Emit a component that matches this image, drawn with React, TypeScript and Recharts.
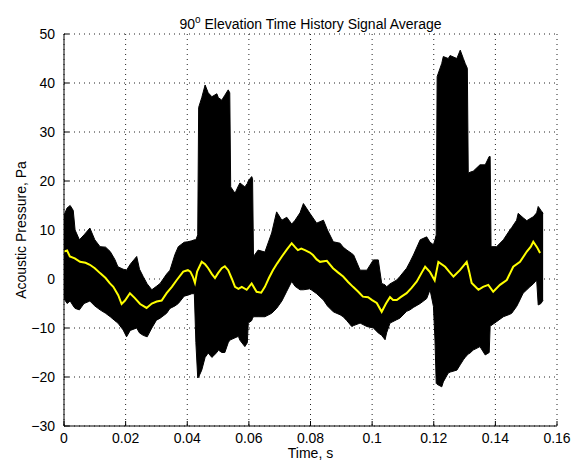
import React from "react";
import {
  ComposedChart,
  Area,
  Line,
  XAxis,
  YAxis,
  CartesianGrid,
  Label,
} from "recharts";

// Envelope of the overlaid time-history traces (s, Pa)
const bandTime = [
  0.0, 0.001, 0.002, 0.003, 0.0036, 0.005, 0.0065, 0.0084, 0.01, 0.0117, 0.0135, 0.015, 0.0165,
  0.0175, 0.0192, 0.0203, 0.0215, 0.0236, 0.0245, 0.0257, 0.027, 0.0285, 0.03, 0.0312, 0.0333,
  0.0344, 0.036, 0.0371, 0.039, 0.0402, 0.0415, 0.0423, 0.0428, 0.0434, 0.0437, 0.0447, 0.0458,
  0.0468, 0.048, 0.0496, 0.0501, 0.0512, 0.0522, 0.0533, 0.0538, 0.0541, 0.0555, 0.0566, 0.0571,
  0.0587, 0.0595, 0.0598, 0.0609, 0.0612, 0.0615, 0.063, 0.0652, 0.0674, 0.069, 0.0707, 0.0723,
  0.0739, 0.075, 0.0766, 0.0777, 0.0798, 0.082, 0.0842, 0.0855, 0.0874, 0.0896, 0.0906, 0.0918,
  0.0934, 0.094, 0.0961, 0.0983, 0.1004, 0.102, 0.1031, 0.1042, 0.1047, 0.1058, 0.108, 0.109,
  0.1112, 0.1123, 0.1134, 0.1156, 0.1177, 0.1188, 0.1199, 0.1204, 0.1208, 0.1211, 0.1226, 0.1231,
  0.1247, 0.1253, 0.1275, 0.1286, 0.1296, 0.1302, 0.1309, 0.1312, 0.1318, 0.1328, 0.135, 0.1367,
  0.138, 0.1383, 0.1386, 0.1404, 0.1426, 0.1447, 0.1453, 0.1469, 0.1474, 0.149, 0.1502, 0.1512,
  0.1523, 0.1534, 0.1539, 0.1548, 0.1555,
];
const bandLow = [
  -4, -5, -4.5, -5.5, -6, -6.3, -5, -4.5, -5.5, -6.3, -7, -7.7, -8.5,
  -9, -10.4, -11.8, -10.5, -10, -11, -11.5, -11.8, -10, -8.4, -8, -7,
  -6, -5.5, -5, -3.5, -3.3, -3, -3, -13, -20.2, -20, -18.6, -16,
  -15.1, -16, -15, -14.5, -15, -15, -13, -12.5, -12.4, -12, -11.7, -12.5,
  -13.8, -13, -9, -8.5, -8, -7.7, -7.7, -7.7, -7, -6, -4.5, -2.5,
  -0.5, -1.5, -2.2, -2.2, -2, -3, -4.3, -5.5, -6.7, -7.3, -7.7, -8.5,
  -9.7, -9.5, -9, -9.7, -10, -11, -11.5, -12.4, -11, -9, -8.3, -8,
  -6.6, -6.3, -5.8, -5, -4, -2.2, -5.6, -12.4, -21.3, -21.5, -22, -21,
  -19.2, -19, -18.6, -17.5, -16.5, -16, -15.5, -15.3, -15.1, -14.5, -13.8, -15.5,
  -15, -9.7, -9.5, -8.7, -7.7, -7.2, -7, -5.6, -5, -2.9, -2.2, -1.6,
  -1, -0.2, -5.3, -5, -4.3,
];
const bandHigh = [
  13, 14.5, 15, 14, 10, 8, 9, 10.4, 8, 6.6, 6.5, 5.6, 4,
  2.5, 2, 1.8, 3, 4.6, 2, 0.5, -1, -2.2, -1.5, -0.9, 1,
  1.8, 5, 6.6, 7.5, 7.6, 7.8, 8, 8, 9, 35, 37, 39.6,
  38, 37.2, 37.8, 37, 36.5, 37.5, 38.6, 38, 18.8, 17.5, 19, 19.6,
  18.8, 19.5, 20, 20.9, 20.5, 4.6, 5.9, 5.5, 9.4, 13.7, 12, 12.6,
  11.2, 12, 13.5, 15.4, 13.4, 11.4, 12, 10, 7.6, 7.3, 6.5, 5.9,
  5.2, 4.9, 1.8, 1.8, 3.9, 3.9, -0.9, -1.2, -1.6, -1, -0.2, 0.5,
  2.2, 3.5, 4.9, 8, 8.6, 7.5, 7, 8, 9, 41.3, 44, 45.4,
  45, 45.6, 45, 46.7, 45, 44, 43, 21.6, 21.8, 22, 23.3, 23.3,
  25, 25, 6.6, 6.6, 8, 10, 10.5, 12, 13.4, 12.5, 11.9, 12.3,
  12.7, 13.5, 14.8, 14, 13.4,
];

// Signal average (yellow)
const avgTime = [
  0.0, 0.001, 0.0019, 0.0035, 0.0052, 0.007, 0.0084, 0.01, 0.0117, 0.0135, 0.0149, 0.016, 0.0176,
  0.0187, 0.0198, 0.0214, 0.023, 0.0247, 0.0268, 0.0285, 0.0301, 0.0317, 0.0333, 0.035, 0.0366,
  0.0387, 0.0402, 0.041, 0.0418, 0.0425, 0.0432, 0.0447, 0.0458, 0.0468, 0.048, 0.049, 0.05,
  0.0512, 0.0522, 0.0533, 0.0545, 0.0555, 0.0566, 0.0577, 0.0593, 0.0609, 0.0625, 0.064, 0.0652,
  0.0665, 0.0678, 0.0692, 0.0707, 0.0723, 0.0739, 0.075, 0.0759, 0.077, 0.0782, 0.0798, 0.0808,
  0.082, 0.0831, 0.0853, 0.0873, 0.089, 0.0906, 0.0922, 0.0938, 0.0955, 0.097, 0.0987, 0.1,
  0.1015, 0.1031, 0.1045, 0.1058, 0.1068, 0.108, 0.1095, 0.1112, 0.1128, 0.1145, 0.116, 0.1172,
  0.1188, 0.1203, 0.1215, 0.1237, 0.125, 0.1264, 0.1285, 0.1307, 0.1315, 0.1323, 0.1345, 0.136,
  0.1377, 0.1393, 0.1415, 0.1437, 0.1458, 0.148, 0.1502, 0.1515, 0.1523, 0.1535, 0.1545,
];
const avgValue = [
  5.6, 5.8, 4.6, 4.2, 3.5, 3.3, 2.9, 2.2, 1.2, 0.2, -0.9, -1.6, -3.3,
  -5.1, -4.4, -2.9, -3.9, -5.1, -5.9, -5.0, -4.6, -4.4, -2.9, -1.6, -0.2,
  1.5, 1.8, 1.5, 0.5, -0.8, 1.5, 3.5, 3.0, 2.2, 1.0, 0.2, 1.2,
  2.2, 2.6, 1.8, 0.0, -1.6, -2.0, -1.6, -2.2, -0.9, -2.6, -2.8, -1.6,
  0.2, 1.8, 3.2, 4.6, 6.0, 7.3, 6.5, 5.9, 6.2, 5.9, 5.4, 4.9,
  4.0, 3.5, 3.7, 2.2, 1.3, 0.5, -0.6, -1.6, -2.6, -3.6, -3.7, -4.3,
  -4.9, -6.7, -5.0, -3.7, -4.3, -4.3, -3.6, -2.9, -1.8, -0.5, 1.2, 2.5,
  1.4, -0.3, 3.5, 2.5, 1.5, 0.5, 1.8, 3.5, 1.5, -0.8, -2.2, -1.6,
  -1.2, -2.6, -1.2, -0.2, 2.5, 3.5, 5.6, 6.6, 7.6, 6.5, 5.3,
];

const xTicks = [0, 0.02, 0.04, 0.06, 0.08, 0.1, 0.12, 0.14, 0.16];
const yTicks = [-30, -20, -10, 0, 10, 20, 30, 40, 50];

const bandData = bandTime.map((t, i) => ({ t, band: [bandLow[i], bandHigh[i]] }));
const avgData = avgTime.map((t, i) => ({ t, avg: avgValue[i] }));

const FONT = "'Liberation Sans', Arial, Helvetica, sans-serif";
const fmt = (v: number) => (v < 0 ? "\u2212" + Math.abs(v) : String(v));
const tickStyle = { fill: "#000", fontSize: 14, fontFamily: FONT };

export default function App() {
  return (
    <div style={{ position: "absolute", left: 0, top: 0, width: 583, height: 464, background: "#fff" }}>
      <div
        style={{
          position: "absolute",
          left: 64,
          top: 16,
          width: 493,
          textAlign: "center",
          fontFamily: FONT,
          fontSize: 14,
          lineHeight: "16px",
          color: "#000",
          whiteSpace: "nowrap",
        }}
      >
        90<span style={{ fontSize: 10, position: "relative", top: -6 }}>o</span> Elevation Time History Signal Average
      </div>
      <ComposedChart
        width={583}
        height={464}
        margin={{ top: 34, right: 26, bottom: 0, left: 0 }}
        style={{ position: "absolute", left: 0, top: 0 }}
      >
        <CartesianGrid stroke="#222" strokeDasharray="1 4" />
        <XAxis
          dataKey="t"
          type="number"
          domain={[0, 0.16]}
          ticks={xTicks}
          tickFormatter={fmt}
          allowDataOverflow
          height={38}
          tickSize={-5}
          tickMargin={12}
          tick={tickStyle}
          stroke="#000"
          interval={0}
        >
          <Label
            content={() => (
              <text x={310.5} y={458} textAnchor="middle" fontSize={14} fontFamily={FONT} fill="#000">
                Time, s
              </text>
            )}
          />
        </XAxis>
        <XAxis
          xAxisId="top"
          orientation="top"
          dataKey="t"
          type="number"
          domain={[0, 0.16]}
          ticks={xTicks}
          allowDataOverflow
          height={0}
          tickSize={-5}
          tick={false}
          stroke="#000"
          interval={0}
        />
        <YAxis
          type="number"
          domain={[-30, 50]}
          ticks={yTicks}
          tickFormatter={fmt}
          allowDataOverflow
          width={64}
          tickSize={-5}
          tickMargin={14}
          tick={tickStyle}
          stroke="#000"
          interval={0}
        >
          <Label
            content={() => (
              <text
                x={26}
                y={230}
                transform="rotate(-90 26 230)"
                textAnchor="middle"
                fontSize={14}
                fontFamily={FONT}
                fill="#000"
              >
                Acoustic Pressure, Pa
              </text>
            )}
          />
        </YAxis>
        <YAxis
          yAxisId="right"
          orientation="right"
          type="number"
          domain={[-30, 50]}
          ticks={yTicks}
          allowDataOverflow
          width={0}
          tickSize={-5}
          tick={false}
          stroke="#000"
          interval={0}
        />
        <Area
          data={bandData}
          dataKey="band"
          type="linear"
          fill="#000"
          fillOpacity={1}
          stroke="#000"
          strokeWidth={1}
          isAnimationActive={false}
          dot={false}
          activeDot={false}
        />
        <Line
          data={avgData}
          dataKey="avg"
          type="linear"
          stroke="#ffff00"
          strokeWidth={2}
          dot={false}
          activeDot={false}
          isAnimationActive={false}
        />
      </ComposedChart>
    </div>
  );
}
